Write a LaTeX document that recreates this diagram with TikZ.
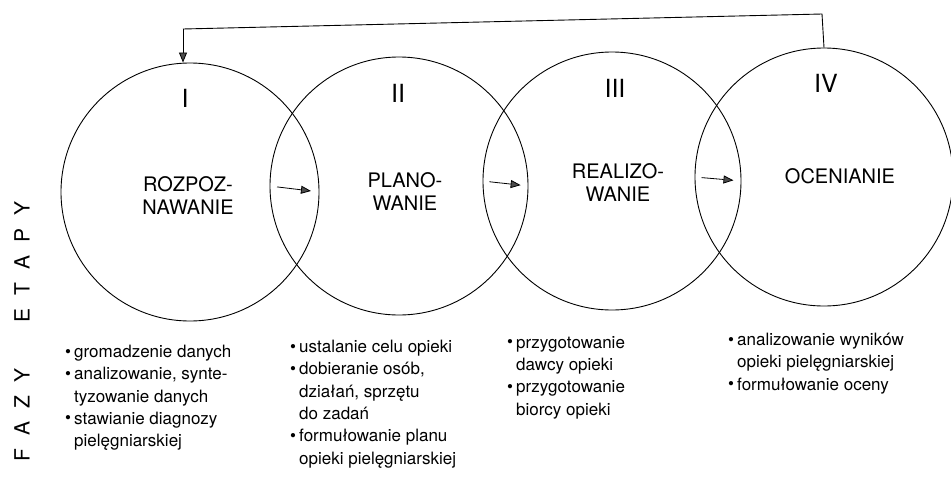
\documentclass[tikz,border=0pt]{standalone}
\usepackage{fontspec}
\setmainfont{TeX Gyre Heros}
\usetikzlibrary{arrows.meta,calc}
\newcommand\bul{\makebox[9pt][l]{\raisebox{0.5pt}{\fontsize{17}{17}\selectfont •}}}
\newcommand\ind{\hspace*{9pt}}
\begin{document}
\begin{tikzpicture}[x=1pt,y=-1pt,
  ring/.style={circle,draw,line width=0.9pt,minimum size=258pt,inner sep=0pt},
  num/.style={font=\fontsize{25}{28}\selectfont,inner sep=0pt},
  lbl/.style={font=\fontsize{20}{23}\selectfont,align=center,inner sep=0pt},
  lst/.style={font=\fontsize{17}{22.3}\selectfont,align=left,anchor=north west,inner sep=0pt},
  side/.style={font=\fontsize{21}{24}\selectfont,rotate=90,inner sep=0pt},
  arr/.style={line width=0.8pt,-{Triangle[length=10pt,width=8pt,fill=black!70]}},
  fb/.style={line width=0.9pt}]
\useasboundingbox (0,0) rectangle (951,477);
% circles
\node[ring] (c1) at (190,192) {};
\node[ring] (c2) at (399,186) {};
\node[ring] (c3) at (612,181) {};
\node[ring] (c4) at (824,177) {};
% numerals
\node[num] (n1) at (185,98) {I};
\node[num] (n2) at (398,93) {II};
\node[num] (n3) at (615,88) {III};
\node[num] (n4) at (826,83) {IV};
% labels
\node[lbl] (l1) at (188,196) {ROZPOZ-\\NAWANIE};
\node[lbl] (l2) at (405,192) {PLANO-\\WANIE};
\node[lbl] (l3) at (618,183) {REALIZO-\\WANIE};
\node[lbl] (l4) at (840,176) {OCENIANIE};
% arrows between circles
\draw[arr] ($(c2.west)!0.15!(c1.east)$) -- ($(c2.west)!0.83!(c1.east)$);
\draw[arr] ($(c3.west)!0.15!(c2.east)$) -- ($(c3.west)!0.83!(c2.east)$);
\draw[arr] ($(c4.west)!0.15!(c3.east)$) -- ($(c4.west)!0.83!(c3.east)$);
% feedback
\coordinate (t4) at (822,14);
\coordinate (t1) at (183,29);
\draw[fb] (c4.north) -- (t4) -- (t1);
\draw[arr] (t1) -- (t1 |- c1.north);
% side labels
\node[side] (etapy) at (22,262) {E\hspace{13pt}T\hspace{13pt}A\hspace{13pt}P\hspace{13pt}Y};
\node[side] (fazy) at (22,415) {F\hspace{13pt}A\hspace{13pt}Z\hspace{13pt}Y};
% lists
\node[lst] (p1) at (65,345) {\bul gromadzenie danych\\
\bul analizowanie, synte-\\
\ind tyzowanie danych\\
\bul stawianie diagnozy\\
\ind pielęgniarskiej};
\node[lst] (p2) at (290,340) {\bul ustalanie celu opieki\\
\bul dobieranie osób,\\
\ind działań, sprzętu\\
\ind do zadań\\
\bul formułowanie planu\\
\ind opieki pielęgniarskiej};
\node[lst] (p3) at (507,336) {\bul przygotowanie\\
\ind dawcy opieki\\
\bul przygotowanie\\
\ind biorcy opieki};
\node[lst] (p4) at (728,333) {\bul analizowanie wyników\\
\ind opieki pielęgniarskiej\\
\bul formułowanie oceny};
\end{tikzpicture}
\end{document}
